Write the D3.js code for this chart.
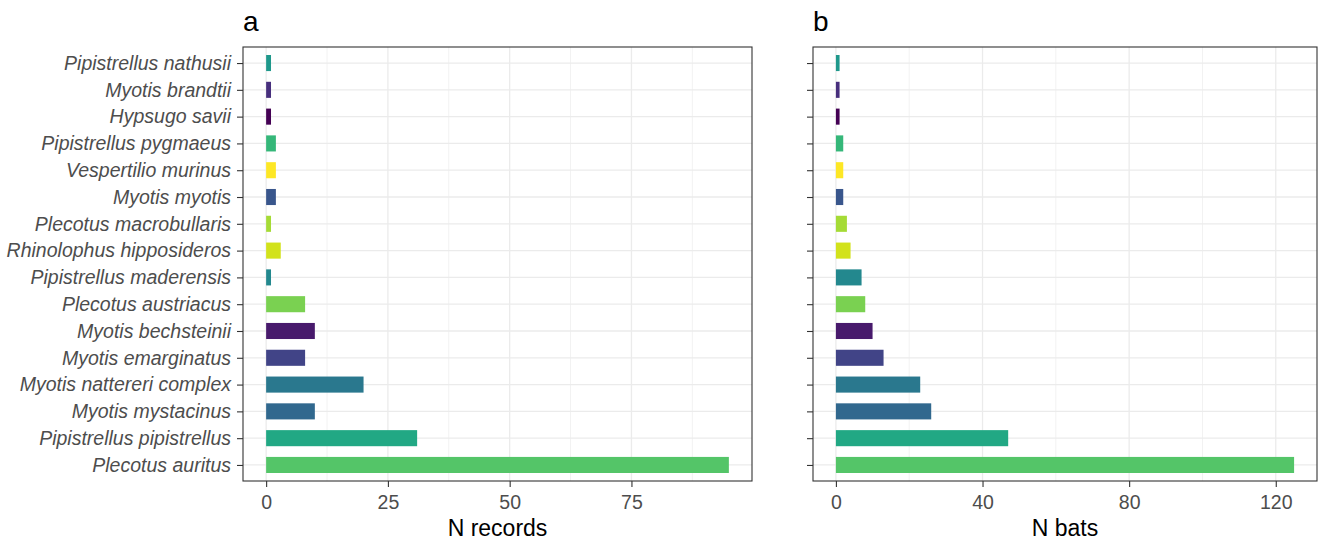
<!DOCTYPE html>
<html><head><meta charset="utf-8">
<script src="https://cdn.jsdelivr.net/npm/d3@7"></script>
<style>body{margin:0;background:#fff}svg{display:block;font-family:"Liberation Sans",Arial,sans-serif}</style>
</head><body>
<svg id="c" width="1329" height="543"></svg>
<script>
// categories top-to-bottom
const species = ["Pipistrellus nathusii","Myotis brandtii","Hypsugo savii","Pipistrellus pygmaeus","Vespertilio murinus","Myotis myotis","Plecotus macrobullaris","Rhinolophus hipposideros","Pipistrellus maderensis","Plecotus austriacus","Myotis bechsteinii","Myotis emarginatus","Myotis nattereri complex","Myotis mystacinus","Pipistrellus pipistrellus","Plecotus auritus"];
const nRecords = [1,1,1,2,2,2,1,3,1,8,10,8,20,10,31,95];
const nBats =    [1,1,1,2,2,2,3,4,7,8,10,13,23,26,47,125];
const ticksA = [0,25,50,75];
const ticksB = [0,40,80,120];
const minorA = [12.5,37.5,62.5,87.5];
const minorB = [20,60,100];

const alpha = species.slice().sort();
const color = d3.scaleOrdinal().domain(alpha).range(alpha.map((d,i)=>d3.interpolateViridis(i/(alpha.length-1))));

const svg = d3.select("#c");
const pTop = 47, pBottom = 481;
const y = d3.scalePoint().domain(species).range([pTop + 0.6*26.73, pBottom - 0.6*26.73]);
const step = y.step();
const FONT = "Liberation Sans, Arial, sans-serif";

function panel(left, right, values, ticks, minor, title, xlab, showY) {
  const max = d3.max(values);
  const x = d3.scaleLinear().domain([-0.05*max, max*1.05]).range([left, right]);
  const g = svg.append("g");
  g.append("rect").attr("x",left).attr("y",pTop).attr("width",right-left).attr("height",pBottom-pTop).attr("fill","#fff");
  g.selectAll(".mn").data(minor).join("line").attr("x1",d=>x(d)).attr("x2",d=>x(d)).attr("y1",pTop).attr("y2",pBottom).attr("stroke","#f2f2f2").attr("stroke-width",1);
  g.selectAll(".mj").data(ticks).join("line").attr("x1",d=>x(d)).attr("x2",d=>x(d)).attr("y1",pTop).attr("y2",pBottom).attr("stroke","#ebebeb").attr("stroke-width",1.3);
  g.selectAll(".hy").data(species).join("line").attr("x1",left).attr("x2",right).attr("y1",d=>y(d)).attr("y2",d=>y(d)).attr("stroke","#ebebeb").attr("stroke-width",1.3);
  const bh = step*0.6;
  g.selectAll(".bar").data(species).join("rect")
    .attr("x",x(0)).attr("y",d=>y(d)-bh/2)
    .attr("width",(d,i)=>x(values[i])-x(0)).attr("height",bh)
    .attr("fill",d=>color(d));
  g.append("rect").attr("x",left).attr("y",pTop).attr("width",right-left).attr("height",pBottom-pTop).attr("fill","none").attr("stroke","#333").attr("stroke-width",1.1);
  const xa = g.append("g").attr("transform",`translate(0,${pBottom})`).call(d3.axisBottom(x).tickValues(ticks).tickSize(6).tickPadding(8));
  xa.select(".domain").remove();
  xa.selectAll("line").attr("stroke","#333").attr("stroke-width",1.1);
  xa.selectAll("text").attr("fill","#4d4d4d").style("font-size","19.5px").attr("font-family",FONT);
  const ya = g.append("g").attr("transform",`translate(${left},0)`).call(d3.axisLeft(y).tickSize(6).tickPadding(6).tickFormat(showY ? (d=>d) : ()=>""));
  ya.select(".domain").remove();
  ya.selectAll("line").attr("stroke","#333").attr("stroke-width",1.1);
  ya.selectAll("text").attr("fill","#4d4d4d").style("font-size","19.5px").style("font-style","italic").attr("font-family",FONT);
  g.append("text").attr("x",(left+right)/2).attr("y",536).attr("text-anchor","middle").style("font-size","23px").attr("fill","#000").text(xlab);
  g.append("text").attr("x",left).attr("y",31).style("font-size","28px").attr("fill","#000").text(title);
}
panel(243, 752, nRecords, ticksA, minorA, "a", "N records", true);
panel(813, 1317, nBats, ticksB, minorB, "b", "N bats", false);
</script>
</body></html>
